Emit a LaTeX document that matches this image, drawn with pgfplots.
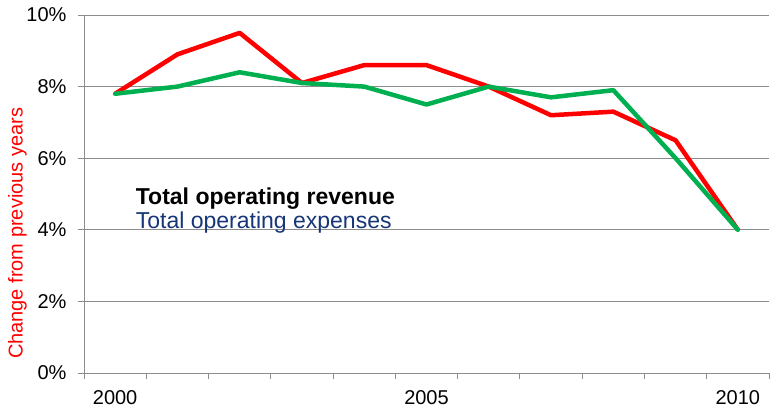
\documentclass[border=0pt]{standalone}
\usepackage{pgfplots}
\pgfplotsset{compat=1.18}
\usepackage{fontspec}
\setmainfont{Liberation Sans}
\definecolor{revred}{RGB}{255,0,0}
\definecolor{expgreen}{RGB}{0,176,80}
\definecolor{expblue}{RGB}{23,54,120}
\definecolor{gridgray}{RGB}{140,140,140}

\begin{document}
\begin{tikzpicture}
\begin{axis}[
  scale only axis,
  width=685bp, height=358bp,
  xmin=1999.5, xmax=2010.5,
  ymin=0, ymax=10,
  axis x line*=bottom, axis y line*=left,
  axis line style={gridgray, line width=0.9bp, -},
  xtick={2000,2005,2010},
  major x tick style={draw=none},
  minor xtick={1999.5,2000.5,...,2010.5},
  minor x tick style={gridgray, line width=0.9bp},
  minor tick length=6bp,
  ytick={0,2,...,10},
  major tick length=6bp,
  y tick style={gridgray, line width=0.9bp},
  tick align=outside,
  ymajorgrids=true,
  grid style={gridgray, line width=0.9bp},
  /pgf/number format/assume math mode=true,
  xticklabel style={/pgf/number format/1000 sep={}, font=\fontsize{20bp}{24bp}\selectfont, yshift=-8bp},
  yticklabel={\pgfmathprintnumber{\tick}\%},
  yticklabel style={font=\fontsize{20bp}{24bp}\selectfont, xshift=-8bp},
  ylabel={Change from previous  years},
  ylabel style={at={(axis description cs:-0.097,0.39)}, anchor=center, text=revred,
    font=\fontsize{20bp}{24bp}\selectfont},
  clip=false,
]
\addplot[revred, line width=4.5bp, line join=round] coordinates {
  (2000,7.8) (2001,8.9) (2002,9.5) (2003,8.1) (2004,8.6) (2005,8.6)
  (2006,8.0) (2007,7.2) (2008,7.3) (2009,6.5) (2010,4.0)};
\addplot[expgreen, line width=4.5bp, line join=round, line cap=round] coordinates {
  (2000,7.8) (2001,8.0) (2002,8.4) (2003,8.1) (2004,8.0) (2005,7.5)
  (2006,8.0) (2007,7.7) (2008,7.9) (2009,6.0) (2010,4.0)};
\node[anchor=base west, font=\bfseries\fontsize{23bp}{27bp}\selectfont, inner sep=0pt]
  at (axis cs:2000.33,4.7) {Total operating revenue};
\node[anchor=base west, font=\fontsize{23bp}{27bp}\selectfont, text=expblue, inner sep=0pt]
  at (axis cs:2000.33,4.05) {Total operating expenses};
\end{axis}
\useasboundingbox ([shift={(-84bp,-37bp)}]current axis.south west)
  rectangle ([shift={(9bp,15bp)}]current axis.north east);
\end{tikzpicture}
\end{document}
